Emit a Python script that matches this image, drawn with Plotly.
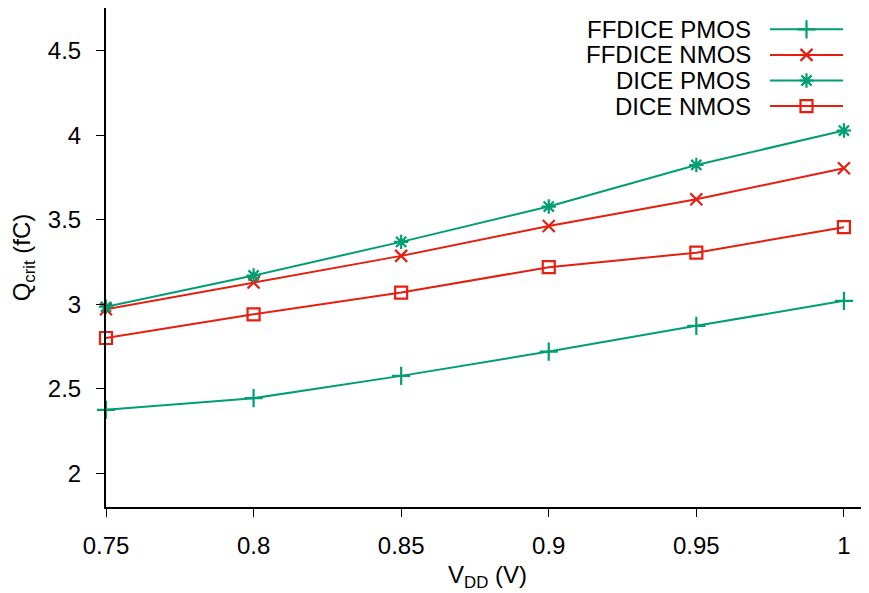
import plotly.graph_objects as go

# ---- data ----
vdd = [0.75, 0.80, 0.85, 0.90, 0.95, 1.00]
ffdice_pmos = [2.375, 2.444, 2.576, 2.720, 2.872, 3.020]
ffdice_nmos = [2.970, 3.128, 3.286, 3.463, 3.621, 3.805]
dice_pmos = [2.985, 3.170, 3.369, 3.578, 3.824, 4.028]
dice_nmos = [2.800, 2.940, 3.069, 3.219, 3.305, 3.456]
series_names = ["FFDICE PMOS", "FFDICE NMOS", "DICE PMOS", "DICE NMOS"]
x_ticks = [0.75, 0.8, 0.85, 0.9, 0.95, 1.0]
x_ticklabels = ["0.75", "0.8", "0.85", "0.9", "0.95", "1"]
y_ticks = [2, 2.5, 3, 3.5, 4, 4.5]
y_ticklabels = ["2", "2.5", "3", "3.5", "4", "4.5"]

GREEN = "#009e73"
RED = "#e51e10"
FONT = "Liberation Sans, Arial, sans-serif"
FS = 24

styles = [
    dict(color=GREEN, symbol="cross-thin", size=13),
    dict(color=RED, symbol="x-thin", size=12),
    dict(color=GREEN, symbol="asterisk", size=12),
    dict(color=RED, symbol="square-open", size=12),
]
values = [ffdice_pmos, ffdice_nmos, dice_pmos, dice_nmos]

fig = go.Figure()
for name, vals, st in zip(series_names, values, styles):
    fig.add_trace(go.Scatter(
        x=vdd, y=vals, mode="lines+markers", name=name, showlegend=False,
        line=dict(color=st["color"], width=2),
        marker=dict(symbol=st["symbol"], size=st["size"], color=st["color"],
                    line=dict(color=st["color"], width=2.2)),
        cliponaxis=False,
    ))

# The page body has an 8px margin, so the figure is sized/offset to compensate.
OFF = 8
W, H = 869 - OFF, 593 - OFF
PLOT_L, PLOT_R, PLOT_T, PLOT_B = 106, 869, 8, 507   # screen pixels of plot area
ML, MR, MT, MB = PLOT_L - OFF, 0, PLOT_T - OFF, 593 - PLOT_B

# ---- manual legend (gnuplot style: text right-aligned, sample on the right) ----
leg_rows = [29.3, 54.9, 80.5, 106.1]
leg_text_x = 753
leg_line = (770, 843)
for name, st, yy in zip(series_names, styles, leg_rows):
    fig.add_trace(go.Scatter(
        x=[leg_line[0], leg_line[1]], y=[yy, yy], xaxis="x2", yaxis="y2",
        mode="lines", line=dict(color=st["color"], width=2),
        showlegend=False, hoverinfo="skip",
    ))
    fig.add_trace(go.Scatter(
        x=[(leg_line[0] + leg_line[1]) / 2], y=[yy], xaxis="x2", yaxis="y2",
        mode="markers", showlegend=False, hoverinfo="skip",
        marker=dict(symbol=st["symbol"], size=st["size"], color=st["color"],
                    line=dict(color=st["color"], width=2.2)),
    ))
    fig.add_annotation(x=leg_text_x, y=yy, xref="x2", yref="y2", text=name,
                       showarrow=False, xanchor="right", yanchor="middle",
                       font=dict(family=FONT, size=24, color="black"))

fig.update_layout(
    width=W, height=H,
    margin=dict(l=ML, r=MR, t=MT, b=MB, pad=0, autoexpand=False),
    paper_bgcolor="white", plot_bgcolor="white",
    font=dict(family=FONT, size=FS, color="black"),
    showlegend=False,
    xaxis=dict(
        range=[0.75, 1.0085], tickvals=x_ticks, ticktext=x_ticklabels,
        showgrid=False, zeroline=False, showline=True, linecolor="black",
        linewidth=2, ticks="outside", ticklen=8, tickwidth=1, tickcolor="black",
        ticklabelstandoff=8, automargin=False,
        title=dict(text="V<sub>DD</sub> (V)", standoff=8,
                   font=dict(family=FONT, size=FS)),
    ),
    yaxis=dict(
        range=[1.8, 4.753], tickvals=y_ticks, ticktext=y_ticklabels,
        showgrid=False, zeroline=False, showline=True, linecolor="black",
        linewidth=2, ticks="outside", ticklen=8, tickwidth=1, tickcolor="black",
        ticklabelstandoff=10, automargin=False,
        title=dict(text="Q<sub>crit</sub> (fC)", standoff=14,
                   font=dict(family=FONT, size=FS)),
    ),
    xaxis2=dict(range=[PLOT_L, PLOT_R], overlaying="x", visible=False, fixedrange=True),
    yaxis2=dict(range=[PLOT_B, PLOT_T], overlaying="y", visible=False, fixedrange=True),
)

fig.write_html("out.html")
